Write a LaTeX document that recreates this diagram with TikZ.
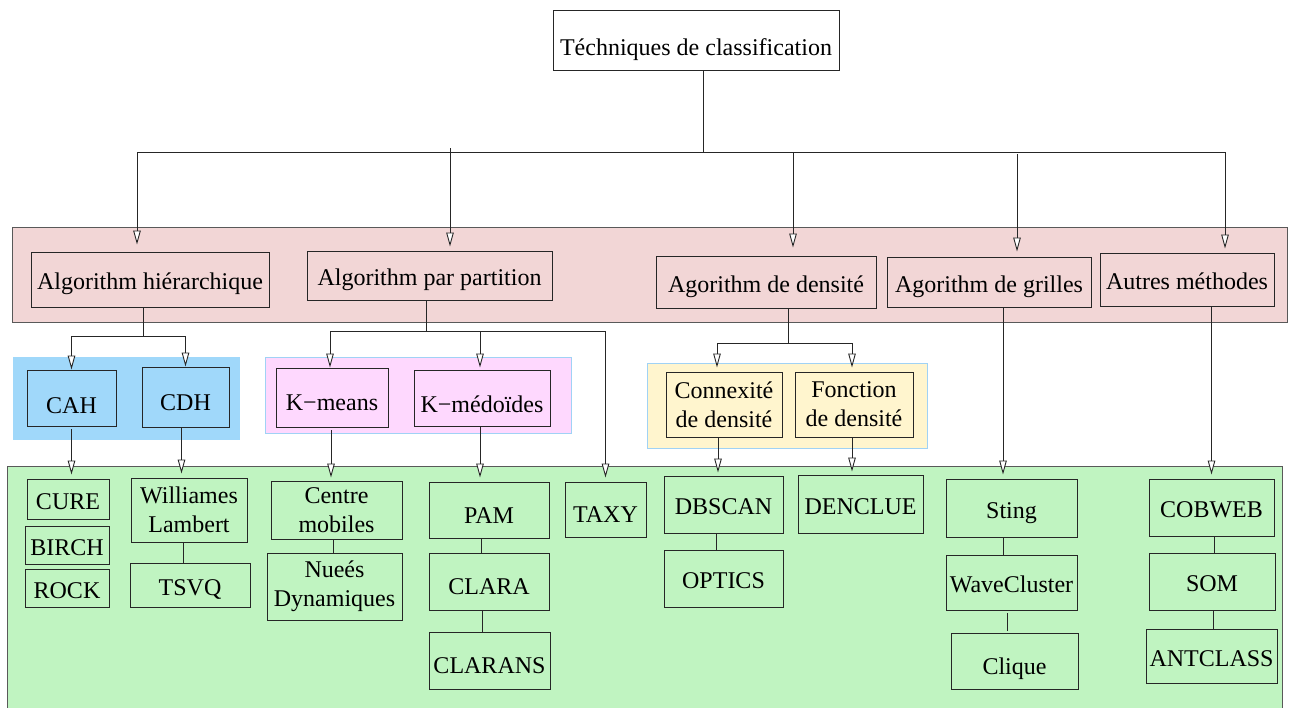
\documentclass[tikz,border=0pt]{standalone}
\usepackage{fontspec}
\setmainfont{Liberation Serif}
\usetikzlibrary{arrows.meta}
\definecolor{pinkband}{RGB}{242,214,214}
\definecolor{blueband}{RGB}{160,216,250}
\definecolor{magband}{RGB}{254,216,254}
\definecolor{yelband}{RGB}{255,245,206}
\definecolor{greenband}{RGB}{192,244,193}
\definecolor{lightedge}{RGB}{160,210,245}
\begin{document}
\begin{tikzpicture}[x=1pt,y=-1pt,
  mbox/.style={draw=black!85, line width=0.9pt, inner sep=0pt, align=center,
    font=\fontsize{24}{29}\selectfont},
  box/.style={mbox, text height=24pt, text depth=4pt},
  low/.style={text height=28pt, text depth=2pt},
  arr/.style={-{Triangle[length=14pt,width=7.5pt,fill=white]}, line width=0.9pt, draw=black!85},
  ln/.style={line width=0.9pt, draw=black!85},
  band/.style={line width=0.9pt},
]
\useasboundingbox (0,0) rectangle (1289,707);

% background bands
\draw[band, fill=pinkband, draw=black!65] (12,227) rectangle (1287,322);
\draw[band, fill=blueband, draw=blueband] (13,357) rectangle (239,439);
\draw[band, fill=magband, draw=lightedge] (265,357) rectangle (571,433);
\draw[band, fill=yelband, draw=lightedge] (647,363) rectangle (927,448);
\draw[band, fill=greenband, draw=black!65] (7,466) rectangle (1282,712);

% top
\node[box, text height=30pt, text depth=0pt, minimum width=286pt, minimum height=60pt] (top) at (696,40) {Téchniques de classification};

% level 1
\node[box, minimum width=238pt, minimum height=55pt] (h1) at (150,279.5) {Algorithm hiérarchique};
\node[box, minimum width=245pt, minimum height=49pt] (h2) at (429.5,275.5) {Algorithm par partition};
\node[box, minimum width=220pt, minimum height=52pt] (h3) at (766,282) {Agorithm de densité};
\node[box, minimum width=204pt, minimum height=50pt] (h4) at (989,282) {Agorithm de grilles};
\node[box, minimum width=174pt, minimum height=53pt] (h5) at (1187,279.5) {Autres méthodes};

% level 2
\node[box, low, text height=30pt, text depth=0pt, minimum width=89pt, minimum height=56pt] (cah) at (71.5,398) {CAH};
\node[box, low, minimum width=87pt, minimum height=60pt] (cdh) at (185.5,397) {CDH};
\node[box, low, minimum width=112pt, minimum height=59pt] (km) at (332,397.5) {K−means};
\node[box, low, text depth=0pt, minimum width=136pt, minimum height=56pt] (kmed) at (482,398) {K−médoïdes};
\node[mbox, minimum width=116pt, minimum height=65pt] (cx) at (724,404.5) {Connexité\\de densité};
\node[mbox, minimum width=118pt, minimum height=65pt] (fn) at (854,404.5) {Fonction\\de densité};

% level 3
\node[box, minimum width=82pt, minimum height=40pt] (cure) at (68,499) {CURE};
\node[box, minimum width=84pt, minimum height=38pt] (birch) at (67,545) {BIRCH};
\node[box, minimum width=84pt, minimum height=38pt] (rock) at (67,588) {ROCK};
\node[mbox, minimum width=116pt, minimum height=64pt] (wl) at (189,510) {Williames\\Lambert};
\node[box, minimum width=120pt, minimum height=44pt] (tsvq) at (190,585) {TSVQ};
\node[mbox, minimum width=131pt, minimum height=58pt] (cm) at (336.5,510) {Centre\\mobiles};
\node[mbox, minimum width=135pt, minimum height=67pt] (nd) at (334.5,586.5) {Nueés\\Dynamiques};
\node[box, low, minimum width=120pt, minimum height=56pt] (pam) at (489,510) {PAM};
\node[box, low, minimum width=120pt, minimum height=57pt] (clara) at (489,581.5) {CLARA};
\node[box, low, minimum width=121pt, minimum height=57pt] (clarans) at (489.5,660.5) {CLARANS};
\node[box, low, minimum width=81pt, minimum height=55pt] (taxy) at (605.5,509.5) {TAXY};
\node[box, minimum width=119pt, minimum height=57pt] (dbscan) at (723.5,504.5) {DBSCAN};
\node[box, minimum width=119pt, minimum height=57pt] (optics) at (723.5,578.5) {OPTICS};
\node[box, minimum width=125pt, minimum height=58pt] (denclue) at (860.5,504) {DENCLUE};
\node[box, minimum width=131pt, minimum height=58pt] (sting) at (1011.5,508) {Sting};
\node[box, minimum width=131pt, minimum height=55pt] (wave) at (1011.5,582.5) {WaveCluster};
\node[box, low, minimum width=127pt, minimum height=56pt] (clique) at (1014.5,661) {Clique};
\node[box, minimum width=125pt, minimum height=57pt] (cobweb) at (1211.5,507.5) {COBWEB};
\node[box, minimum width=126pt, minimum height=57pt] (som) at (1212,581.5) {SOM};
\node[box, minimum width=131pt, minimum height=54pt] (antclass) at (1211.5,656) {ANTCLASS};

% top bus
\coordinate (b0) at (703,152);
\coordinate (b1) at (137,152);
\coordinate (b2) at (450,148);
\coordinate (b3) at (793,152);
\coordinate (b4) at (1017,154);
\coordinate (b5) at (1225,152);
\draw[ln] (top.south -| b0) -- (b0);
\draw[ln] (b1) -- (b5);
\draw[arr, shorten >=7pt] (b1) -- (b1 |- h1.north);
\draw[arr, shorten >=4pt] (b2) -- (b2 |- h2.north);
\draw[arr, shorten >=8pt] (b3) -- (b3 |- h3.north);
\draw[arr, shorten >=5pt] (b4) -- (b4 |- h4.north);
\draw[arr, shorten >=4pt] (b5) -- (b5 |- h5.north);

% level 1 -> level 2
\coordinate (j1) at (143,336);
\draw[ln] (h1.south -| j1) -- (j1);
\draw[arr] (j1) -| (cah.north);
\draw[arr] (j1) -| (cdh.north);
\coordinate (j2) at (426,331);
\draw[ln] (h2.south -| j2) -- (j2);
\draw[arr] (j2) -| ([xshift=-2pt]km.north);
\draw[arr, shorten >=2pt] (j2) -| ([xshift=-2pt]kmed.north);
\draw[arr, shorten >=4pt] (j2) -| (taxy.north);
\coordinate (j3) at (788,343);
\draw[ln] (h3.south -| j3) -- (j3);
\draw[arr, shorten >=4pt] (j3) -| ([xshift=-7pt]cx.north);
\draw[arr, shorten >=4pt] (j3) -| ([xshift=-2pt]fn.north);
\coordinate (g1) at (1003,0);
\draw[arr, shorten >=4pt] (g1 |- h4.south) -- (g1 |- sting.north);
\draw[arr, shorten >=4pt] (h5.south -| cobweb.north) -- (cobweb.north);

% level 2 -> level 3
\draw[arr, shorten >=4pt] ([yshift=-3pt]cah.south) -- (cah.south |- cure.north);
\draw[arr, shorten >=4pt] ([xshift=-4pt]cdh.south) -- ([xshift=-4pt]cdh.south |- wl.north);
\draw[arr, shorten >=3pt] ([xshift=-1pt,yshift=-3pt]km.south) -- ([xshift=-1pt]km.south |- cm.north);
\draw[arr, shorten >=4pt] ([xshift=-2pt]kmed.south) -- ([xshift=-2pt]kmed.south |- pam.north);
\draw[arr, shorten >=3pt] ([xshift=-6pt]cx.south) -- ([xshift=-6pt]cx.south |- dbscan.north);
\draw[arr, shorten >=3pt] ([xshift=-2pt]fn.south) -- ([xshift=-2pt]fn.south |- denclue.north);

% plain links
\draw[ln] ([xshift=-6pt]wl.south) -- ([xshift=-6pt]wl.south |- tsvq.north);
\draw[ln] ([xshift=-3pt]cm.south) -- ([xshift=-3pt]cm.south |- nd.north);
\draw[ln] ([xshift=-8pt]pam.south) -- ([xshift=-8pt]pam.south |- clara.north);
\draw[ln] ([xshift=-7pt]clara.south) -- ([xshift=-7pt]clara.south |- clarans.north);
\draw[ln] ([xshift=-7pt]dbscan.south) -- ([xshift=-7pt]dbscan.south |- optics.north);
\draw[ln] ([xshift=-8.5pt]sting.south) -- ([xshift=-8.5pt]sting.south |- wave.north);
\draw[ln, shorten >=2pt] ([xshift=-4.5pt,yshift=-3pt]wave.south) -- ([xshift=-4.5pt]wave.south |- clique.north);
\draw[ln] ([xshift=2.5pt]cobweb.south) -- ([xshift=2.5pt]cobweb.south |- som.north);
\draw[ln] ([xshift=1pt]som.south) -- ([xshift=1pt]som.south |- antclass.north);
\end{tikzpicture}
\end{document}
